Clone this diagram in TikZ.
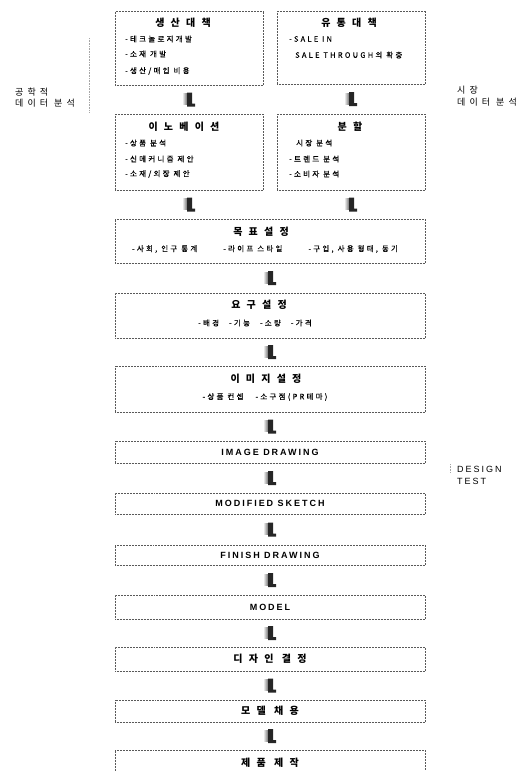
\documentclass[tikz,border=0pt]{standalone}
\usepackage{fontspec}
\setmainfont{Liberation Sans}
\usetikzlibrary{calc}
\newfontfamily\krtitle[LetterSpace=62]{Noto Sans CJK KR}
\newfontfamily\kritem[LetterSpace=30,FakeBold=0.4]{Noto Sans CJK KR}
\newfontfamily\krside[LetterSpace=45]{Noto Sans CJK KR}
\newfontfamily\entitle[LetterSpace=22]{Liberation Sans}
\begin{document}
\begin{tikzpicture}[x=1pt,y=-1pt,
  box/.style={draw=black!65, densely dotted, line width=0.5pt, inner sep=0pt},
  ttl/.style={font=\krtitle\bfseries\fontsize{10}{11}\selectfont, inner sep=0pt},
  itm/.style={font=\kritem\fontsize{7.5}{8}\selectfont, inner sep=0pt, anchor=west},
  itc/.style={font=\kritem\fontsize{7.5}{8}\selectfont, inner sep=0pt},
  side/.style={font=\krside\fontsize{9}{10}\selectfont, inner sep=0pt, anchor=west},
  eng/.style={font=\entitle\bfseries\fontsize{9}{10}\selectfont},
  faint/.style={draw=black!35, densely dotted, line width=0.6pt},
  darr/.pic={
    \shade[left color=black!10, right color=black!55] (-6,-6) rectangle (-2,5);
    \fill[black!85] (-2,-7) -- (3,-7) -- (3,4) -- (6,4) -- (6,7) -- (-2,7) -- cycle;
  }]
\useasboundingbox (0,0) rectangle (524,771);

% boxes
\node[box, minimum width=148pt, minimum height=74pt] (A) at (189,48) {};
\node[box, minimum width=148pt, minimum height=73pt] (B) at (351,47.5) {};
\node[box, minimum width=148pt, minimum height=76pt] (C) at (189,152) {};
\node[box, minimum width=148pt, minimum height=76pt] (D) at (351,152) {};
\node[box, minimum width=310pt, minimum height=44pt] (E) at (270,241) {};
\node[box, minimum width=310pt, minimum height=45pt] (F) at (270,315.5) {};
\node[box, minimum width=310pt, minimum height=46pt] (G) at (270,389) {};
\node[box, minimum width=310pt, minimum height=22pt, eng] (H) at (270,452) {IMAGE DRAWING};
\node[box, minimum width=310pt, minimum height=21pt, eng] (I) at (270,503.5) {MODIFIED SKETCH};
\node[box, minimum width=310pt, minimum height=20pt, eng] (J) at (270,555) {FINISH DRAWING};
\node[box, minimum width=310pt, minimum height=24pt, eng] (K) at (270,607) {MODEL};
\node[box, minimum width=310pt, minimum height=24pt, ttl] (L) at (270,659) {디자인 결정};
\node[box, minimum width=310pt, minimum height=22pt, ttl] (M) at (270,711) {모델 채용};
\node[box, minimum width=310pt, minimum height=26pt, ttl] (N) at (270,763) {제품 제작};

% box texts
\node[ttl] (At) at (183,23) {생산대책};
\node[itm] (A1) at (125,39) {-테크놀로지개발};
\node[itm] (A2) at (125,54) {-소재 개발};
\node[itm] (A3) at (125,71) {-생산/매입 비용};

\node[ttl] (Bt) at (349,23) {유통대책};
\node[itm] (B1) at (289,39) {-SALE IN};
\node[itm] (B2) at (295,55) {SALE THROUGH의 확충};

\node[ttl] (Ct) at (184,127) {이노베이션};
\node[itm] (C1) at (125,143) {-상품 분석};
\node[itm] (C2) at (125,159) {-신메커니즘 제안};
\node[itm] (C3) at (125,174) {-소재/외장 제안};

\node[ttl] (Dt) at (350,127) {분할};
\node[itm] (D1) at (296,143) {시장 분석};
\node[itm] (D2) at (289,159) {-트렌드 분석};
\node[itm] (D3) at (289,174) {-소비자 분석};

\node[ttl] (Et) at (261,232) {목표설정};
\node[itc] (E1) at (265,249) {-사회, 인구 통계\hspace{26pt}-라이프 스타일\hspace{26pt}-구입, 사용 형태, 동기};

\node[ttl] (Ft) at (259,305) {요구설정};
\node[itc] (F1) at (255,323) {-배경\hspace{10pt}-기능\hspace{10pt}-소량\hspace{10pt}-가격};

\node[ttl] (Gt) at (266,379) {이미지설정};
\node[itc] (G1) at (265,397) {-상품 컨셉\hspace{12pt}-소구점(PR테마)};

% side labels
\node[side] (S1) at (15,92) {공학적};
\node[side] (S2) at (15,103) {데이터 분석};
\node[side] (S3) at (457,90) {시장};
\node[side] (S4) at (457,102) {데이터 분석};
\node[font=\entitle\fontsize{9}{10}\selectfont, inner sep=0pt, anchor=west] (S5) at (457,469) {DESIGN};
\node[font=\entitle\fontsize{9}{10}\selectfont, inner sep=0pt, anchor=west] (S6) at (457,481) {TEST};

% faint marks
\coordinate (f1) at (89,38); \coordinate (f2) at (89,113);
\draw[faint] (f1) -- (f2);
\coordinate (f3) at (450,464); \coordinate (f4) at (450,473);
\draw[faint] (f3) -- (f4);

% arrows
\pic at ($(A.south)!0.5!(C.north)$) {darr};
\pic at ($(B.south)!0.5!(D.north)$) {darr};
\pic at ($(C.south)!0.5!(C.south|-E.north)$) {darr};
\pic at ($(D.south)!0.5!(D.south|-E.north)$) {darr};
\pic at ($(E.south)!0.5!(F.north)$) {darr};
\pic at ($(F.south)!0.5!(G.north)$) {darr};
\pic at ($(G.south)!0.5!(H.north)$) {darr};
\pic at ($(H.south)!0.5!(I.north)$) {darr};
\pic at ($(I.south)!0.5!(J.north)$) {darr};
\pic at ($(J.south)!0.5!(K.north)$) {darr};
\pic at ($(K.south)!0.5!(L.north)$) {darr};
\pic at ($(L.south)!0.5!(M.north)$) {darr};
\pic at ($(M.south)!0.5!(N.north)$) {darr};
\end{tikzpicture}
\end{document}
